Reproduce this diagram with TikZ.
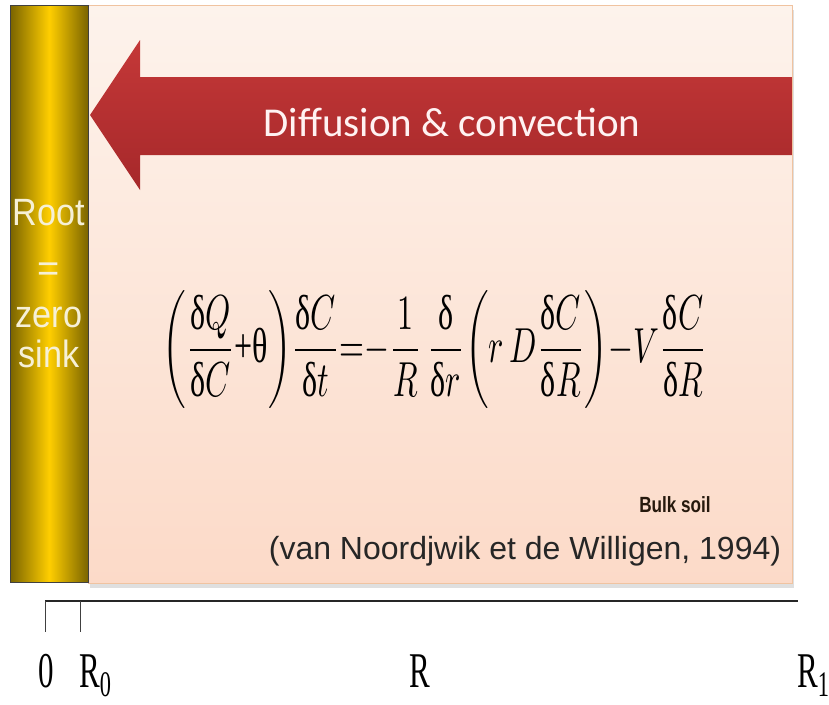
\documentclass[tikz,border=0pt]{standalone}
\usepackage{amsmath}
\usepackage{fontspec}
\setmainfont{Liberation Serif}
\setsansfont{Liberation Sans}
\newfontfamily\calfont{Carlito}
\usepackage{tikz}
\usetikzlibrary{positioning, shadows}
\definecolor{goldD}{RGB}{122, 100, 0}
\definecolor{goldL}{RGB}{255, 206, 0}
\definecolor{soilT}{RGB}{253, 243, 236}
\definecolor{soilB}{RGB}{252, 218, 200}
\definecolor{soilE}{RGB}{240, 195, 160}
\definecolor{arrT}{RGB}{196, 56, 56}
\definecolor{arrB}{RGB}{166, 40, 42}
\definecolor{cream}{RGB}{246, 240, 214}
\newcommand{\dl}{\text{δ}}
\tikzset{
  rootbar/.style={draw=black!75, left color=goldD, right color=goldD, middle color=goldL,
                  inner sep=0pt},
  soilbox/.style={draw=soilE, top color=soilT, bottom color=soilB, inner sep=0pt,
                  drop shadow={opacity=0.25, shadow xshift=2pt, shadow yshift=-5pt}},
  flux/.style={top color=arrT, bottom color=arrB},
  axis/.style={line width=1.6pt, black!85},
  tick/.style={line width=0.9pt, black!75},
  ticklbl/.style={font=\fontsize{50}{50}\selectfont, inner sep=0pt, anchor=base},
}
\begin{document}
\begin{tikzpicture}[x=1pt, y=-1pt]
  \useasboundingbox[fill=white] (0,0) rectangle (829,704);
  % Bulk soil panel
  \node[soilbox, minimum width=704pt, minimum height=578pt, anchor=north west] (soil) at (88,5) {};
  % Root bar
  \node[rootbar, minimum width=78pt, minimum height=577pt, anchor=north west] (root) at (10,5) {};
  \node[align=center, text=cream, font=\sffamily\fontsize{38}{50}\selectfont] (rootlbl) at (49,284)
    {\scalebox{0.9}[1]{Root}\\[6pt] =\\[-4pt] \scalebox{0.9}[1]{zero}\\[-10pt] \scalebox{0.9}[1]{sink}};
  % Diffusion arrow
  \shade[flux] (90,115) -- (140,40) -- (140,77) -- (792,77) -- (792,155)
    -- (140,155) -- (140,190) -- cycle;
  \node[text=white!95!red, font=\calfont\fontsize{41}{41}\selectfont] (fluxlbl) at (452,122)
    {Diffusion \& convection};
  % Equation
  \node (eq) at (435,350) {\resizebox*{544pt}{118pt}{$\displaystyle
    \left(\frac{\dl Q}{\dl C}{\text{+}}\text{θ}\right)\!\frac{\dl C}{\dl t}
    {=}{-}\frac{1}{R}\,\frac{\dl}{\dl r}\!\left(r\,D\frac{\dl C}{\dl R}\right)\!
    {-}V\frac{\dl C}{\dl R}$}};
  \node[font=\sffamily\bfseries\fontsize{22}{22}\selectfont, text=black!80!brown] (bulk) at (675,505)
    {\scalebox{0.78}[1]{Bulk soil}};
  \node[font=\sffamily\fontsize{32}{32}\selectfont, text=black!85] (cite) at (525,551)
    {(van Noordjwik et de Willigen, 1994)};
  % Radial axis
  \coordinate (a0) at (45,601);
  \coordinate (a1) at (798,601);
  \coordinate (t0) at (45,632);
  \coordinate (t1) at (80,601);
  \coordinate (t2) at (80,632);
  \draw[axis] (a0) -- (a1);
  \draw[tick] (a0) -- (t0);
  \draw[tick] (t1) -- (t2);
  \node[ticklbl] (l0) at (46,687) {\scalebox{0.62}[1]{0}};
  \node[ticklbl] (lR0) at (95,687) {\scalebox{0.62}[1]{R\raisebox{-9pt}{\fontsize{36}{36}\selectfont 0}}};
  \node[ticklbl] (lR) at (420,687) {\scalebox{0.62}[1]{R}};
  \node[ticklbl] (lR1) at (813,687) {\scalebox{0.62}[1]{R\raisebox{-9pt}{\fontsize{36}{36}\selectfont 1}}};
\end{tikzpicture}
\end{document}
